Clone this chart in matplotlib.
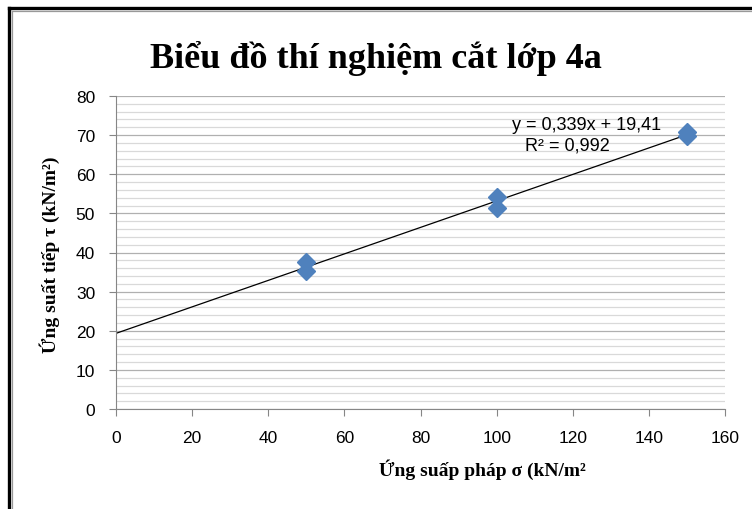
import numpy as np
import matplotlib.pyplot as plt
from matplotlib.lines import Line2D

# test data (normal stress / shear stress)
sigma = [50, 50, 100, 100, 150, 150]
tau = [37.6, 35.3, 54.2, 51.4, 70.7, 69.9]

x_ticks = [0, 20, 40, 60, 80, 100, 120, 140, 160]
y_ticks = [0, 10, 20, 30, 40, 50, 60, 70, 80]

fig = plt.figure(figsize=(7.52, 5.10), dpi=100)
ax = fig.add_axes([116/752, 1 - 410/510, (725 - 116)/752, (410 - 97)/510])

# grid: major every 10, minor every 2
ax.set_yticks(np.arange(0, 81, 2), minor=True)
ax.grid(which='minor', axis='y', color='#d9d9d9', lw=0.9)
ax.grid(which='major', axis='y', color='#b0b0b0', lw=0.9)
ax.set_axisbelow(True)

ax.plot(sigma, tau, 'D', color='#4F81BD', ms=9.5, zorder=3)

# linear trendline
k, b = np.polyfit(sigma, tau, 1)
xs = np.array([0, max(sigma)])
ax.plot(xs, k*xs + b, color='black', lw=0.9, zorder=2)

fig.text(587/752, 1 - 126/510, 'y = 0,339x + 19,41', ha='center', va='center',
         fontsize=13, family='Liberation Sans')
fig.text(567/752, 1 - 146/510, 'R² = 0,992', ha='center', va='center',
         fontsize=13, family='Liberation Sans')

ax.set_xlim(0, 160)
ax.set_ylim(0, 80)
ax.set_xticks(x_ticks)
ax.set_yticks(y_ticks)
ax.tick_params(which='minor', length=0)
ax.tick_params(which='major', direction='out', length=5, color='#868686',
               labelsize=12.5, pad=10)
for lab in ax.get_xticklabels() + ax.get_yticklabels():
    lab.set_family('Liberation Sans')
for s in ['top', 'right']:
    ax.spines[s].set_visible(False)
for s in ['left', 'bottom']:
    ax.spines[s].set_color('#868686')

fig.text(0.5, 1 - 58/510, 'Biểu đồ thí nghiệm cắt lớp 4a', ha='center', va='center',
         fontsize=26, fontweight='bold', family='Liberation Serif')
fig.text(482/752, 1 - 470/510, 'Ứng suấp pháp σ (kN/m²', ha='center', va='center',
         fontsize=14, fontweight='bold', family='Liberation Serif')
fig.text(50/752, 1 - 255/510, 'Ứng suất tiếp τ (kN/m²)', ha='center', va='center',
         rotation=90, fontsize=14, fontweight='bold', family='Liberation Serif')

# chart frame (only top and left edges visible)
fig.add_artist(Line2D([9/752, 9/752], [0, 1 - 9/510], color='black', lw=2.4, transform=fig.transFigure))
fig.add_artist(Line2D([9/752, 1], [1 - 9/510, 1 - 9/510], color='black', lw=2.4, transform=fig.transFigure))
fig.add_artist(Line2D([11.8/752, 11.8/752], [0, 1 - 11.8/510], color='#999999', lw=0.9, transform=fig.transFigure))
fig.add_artist(Line2D([11.8/752, 1], [1 - 11.8/510, 1 - 11.8/510], color='#999999', lw=0.9, transform=fig.transFigure))

fig.savefig('out.png', dpi=100)
